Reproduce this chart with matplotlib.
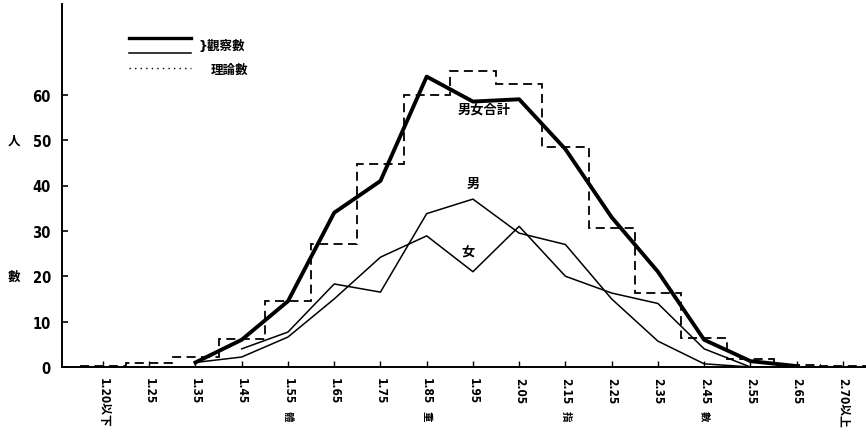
import matplotlib
matplotlib.use("Agg")
import matplotlib.pyplot as plt
import matplotlib.transforms as mtransforms
from matplotlib.lines import Line2D
import numpy as np

plt.rcParams['font.family'] = ['DejaVu Sans', 'Noto Sans CJK JP']

# ---- data ----
categories = ["1.20以下", "1.25", "1.35", "1.45", "1.55", "1.65", "1.75", "1.85",
              "1.95", "2.05", "2.15", "2.25", "2.35", "2.45", "2.55", "2.65", "2.70以上"]
theoretical = [0.3, 0.8, 2.3, 6.2, 14.6, 27.1, 44.8, 60.0, 65.3, 62.4, 48.5,
               30.7, 16.3, 6.4, 1.8, 0.5, 0.3]
total_obs = [None, None, 1.0, 6.0, 14.5, 34.0, 41.0, 64.0, 58.5, 59.0, 48.0,
             33.0, 21.0, 6.0, 1.3, 0.2, None]
male_obs = [None, None, None, 4.0, 7.7, 18.3, 16.5, 33.8, 37.0, 29.5, 27.0,
            15.0, 5.7, 0.7, 0.0, None, None]
female_obs = [None, None, 1.0, 2.2, 6.6, 15.0, 24.2, 28.9, 21.0, 31.0, 20.0,
              16.3, 14.0, 4.0, 0.0, None, None]
yticks = [0, 10, 20, 30, 40, 50, 60]
axis_chars = [("體", 4), ("重", 7), ("指", 10), ("數", 13)]

W, H = 866, 435
fig = plt.figure(figsize=(W / 100, H / 100), dpi=100)
ax = fig.add_axes([62 / W, 1 - 368 / H, 1 - 62 / W, (368 - 5) / H])

x = np.arange(len(categories))

def series(vals):
    xs = [xi for xi, v in zip(x, vals) if v is not None]
    ys = [v for v in vals if v is not None]
    return xs, ys

edges = np.arange(len(categories) + 1) - 0.5
ax.stairs(theoretical, edges, baseline=None, color='black', lw=1.3,
          linestyle=(0, (5, 3)))

xs, ys = series(male_obs)
ax.plot(xs, ys, color='black', lw=1.1)
xs, ys = series(female_obs)
ax.plot(xs, ys, color='black', lw=1.1)
xs, ys = series(total_obs)
ax.plot(xs, ys, color='black', lw=2.8, solid_joinstyle='round')

ax.set_xlim(-0.886, 16.5)
ax.set_ylim(0, 80)

for s in ['top', 'right']:
    ax.spines[s].set_visible(False)
ax.spines['left'].set_linewidth(1.4)
ax.spines['bottom'].set_linewidth(1.4)

ax.set_yticks(yticks)
ax.set_yticklabels([str(v) for v in yticks], fontsize=10.5, fontweight='bold',
                   fontstretch='condensed')
ax.tick_params(axis='y', direction='in', length=4, width=1.2, pad=8)
ax.set_xticks(x)
ax.set_xticklabels(categories, rotation=-90, fontsize=8.5, fontweight='bold',
                   fontstretch='condensed', va='top', ha='center')
ax.tick_params(axis='x', direction='in', length=4, width=1.0, pad=7)

# axis word labels
trans = mtransforms.blended_transform_factory(ax.transData, fig.transFigure)
for ch, idx in axis_chars:
    ax.text(idx, 1 - 416 / H, ch, transform=trans, rotation=-90, fontsize=7.5,
            fontweight='bold', ha='center', va='center', family=['Noto Sans CJK JP'])

fig.text(14 / W, 1 - 141 / H, "人", fontsize=9, fontweight='bold',
         ha='center', va='center', family=['Noto Sans CJK JP'])
fig.text(14 / W, 1 - 277 / H, "數", fontsize=9, fontweight='bold',
         ha='center', va='center', family=['Noto Sans CJK JP'])

# series labels
ax.text(8.25, 57, "男女合計", fontsize=9.5, fontweight='bold', ha='center',
        va='center', family=['Noto Sans CJK JP'])
ax.text(8.0, 40.5, "男", fontsize=9.5, fontweight='bold', ha='center',
        va='center', family=['Noto Sans CJK JP'])
ax.text(7.9, 25.5, "女", fontsize=9.5, fontweight='bold', ha='center',
        va='center', family=['Noto Sans CJK JP'])

# legend
handles = [Line2D([], [], color='black', lw=2.4),
           Line2D([], [], color='black', lw=1.1),
           Line2D([], [], color='black', lw=1.0, linestyle=(0, (1, 3)))]
leg = ax.legend(handles, ["", "", "理論數"], loc='upper left',
                bbox_to_anchor=(0.072, 0.945), frameon=False, handlelength=5.0,
                labelspacing=0.15, handletextpad=1.6, borderpad=0.2,
                prop={'family': ['Noto Sans CJK JP'], 'size': 9, 'weight': 'bold'})
fig.text(198 / W, 1 - 47 / H, "}觀察數", fontsize=9, fontweight='bold',
         ha='left', va='center', family=['DejaVu Sans', 'Noto Sans CJK JP'])

fig.savefig("out.png", dpi=100)
